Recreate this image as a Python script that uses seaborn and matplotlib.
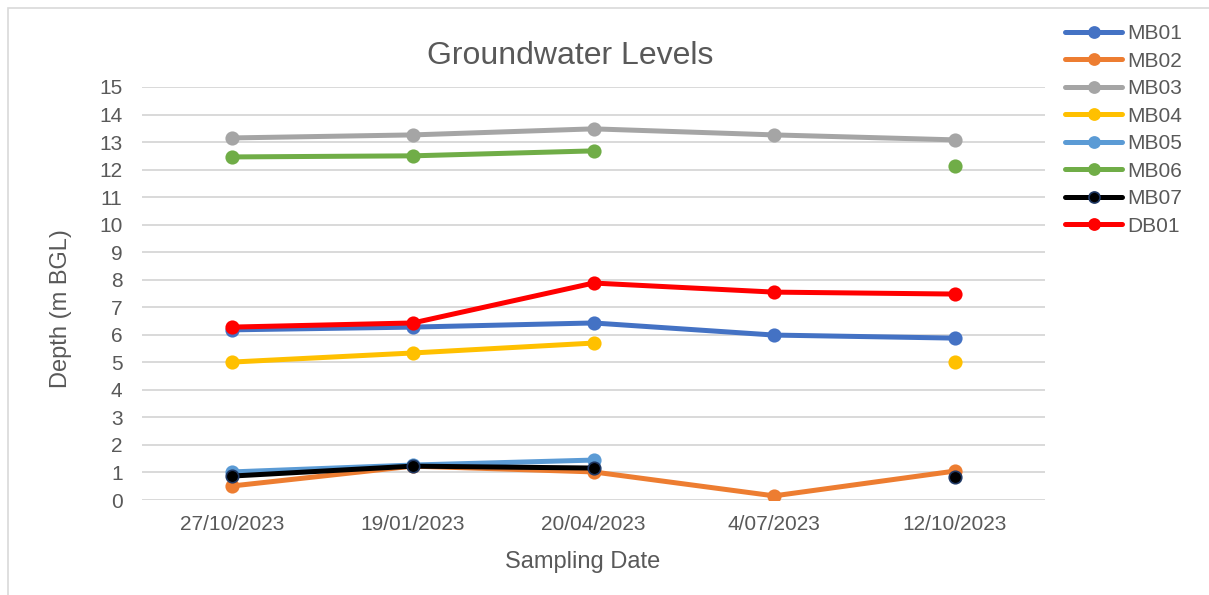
import numpy as np
import pandas as pd
import seaborn as sns
import matplotlib.pyplot as plt
from matplotlib.lines import Line2D
from matplotlib.patches import Rectangle

# Sampling dates (categories)
dates = ['27/10/2023', '19/01/2023', '20/04/2023', '4/07/2023', '12/10/2023']

# Depths (m BGL) per bore, NaN = not sampled
mb01 = [6.18, 6.28, 6.43, 5.99, 5.88]
mb02 = [0.51, 1.23, 1.02, 0.15, 1.05]
mb03 = [13.15, 13.26, 13.48, 13.26, 13.08]
mb04 = [5.01, 5.34, 5.70, np.nan, 5.01]
mb05 = [1.02, 1.27, 1.45, np.nan, np.nan]
mb06 = [12.46, 12.50, 12.68, np.nan, 12.13]
mb07 = [0.87, 1.23, 1.16, np.nan, 0.84]
db01 = [6.28, 6.43, 7.88, 7.55, 7.48]

series = {'MB01': mb01, 'MB02': mb02, 'MB03': mb03, 'MB04': mb04,
          'MB05': mb05, 'MB06': mb06, 'MB07': mb07, 'DB01': db01}
colors = {'MB01': '#4472C4', 'MB02': '#ED7D31', 'MB03': '#A5A5A5', 'MB04': '#FFC000',
          'MB05': '#5B9BD5', 'MB06': '#70AD47', 'MB07': '#000000', 'DB01': '#FF0000'}
edges = dict(colors, MB07='#1F3864')

sns.set_style('white')
plt.rcParams['font.family'] = ['Liberation Sans', 'DejaVu Sans']
txt = '#595959'

fig = plt.figure(figsize=(12.09, 5.95), dpi=100)
ax = fig.add_axes([142 / 1209, 1 - 500 / 595, 903 / 1209, 413 / 595])

# chart area border
fig.patches.append(Rectangle((8 / 1209, -0.1), 1.2, 1.1 - 8 / 595, transform=fig.transFigure,
                             fill=False, edgecolor='#D9D9D9', linewidth=1.2))

handles = []
for name, vals in series.items():
    v = np.array(vals, dtype=float)
    df = pd.DataFrame({'pos': np.arange(len(dates)), 'depth': v})
    df['seg'] = np.cumsum(np.isnan(v))
    df = df.dropna()
    sns.lineplot(data=df, x='pos', y='depth', units='seg', estimator=None, sort=False,
                 color=colors[name], linewidth=3.6, marker='o', markersize=9,
                 markeredgecolor=edges[name], markeredgewidth=1.2, ax=ax)
    handles.append(Line2D([], [], color=colors[name], linewidth=3.6, marker='o', markersize=8,
                          markeredgecolor=edges[name], markeredgewidth=1.2, label=name))

ax.set_xlim(-0.5, len(dates) - 0.5)
ax.set_ylim(0, 15)
ax.set_xticks(range(len(dates)))
ax.set_xticklabels(dates)
ax.set_yticks(range(0, 16))
ax.grid(axis='y', color='#D9D9D9', linewidth=1.4)
ax.set_axisbelow(True)
for s in ax.spines.values():
    s.set_visible(False)
ax.tick_params(axis='x', length=0, pad=11, labelsize=15, labelcolor=txt)
ax.tick_params(axis='y', length=0, pad=14, labelsize=15, labelcolor=txt)

ax.set_xlabel('Sampling Date', fontsize=17, color=txt)
ax.set_ylabel('Depth (m BGL)', fontsize=17, color=txt)
ax.xaxis.set_label_coords((583 - 142) / 903, (500 - 551) / 413)
ax.yaxis.set_label_coords((72 - 142) / 903, (500 - 309) / 413)

fig.text(570 / 1209, 1 - 64 / 595, 'Groundwater Levels', fontsize=23, color=txt,
         ha='center', va='baseline')

fig.legend(handles=handles, loc='upper left', bbox_to_anchor=(1065 / 1209, 1 - 24 / 595),
           frameon=False, fontsize=15, handlelength=2.75, handletextpad=0.25,
           labelspacing=0.41, borderpad=0, borderaxespad=0, labelcolor=txt)

fig.savefig('out.png', dpi=100)
